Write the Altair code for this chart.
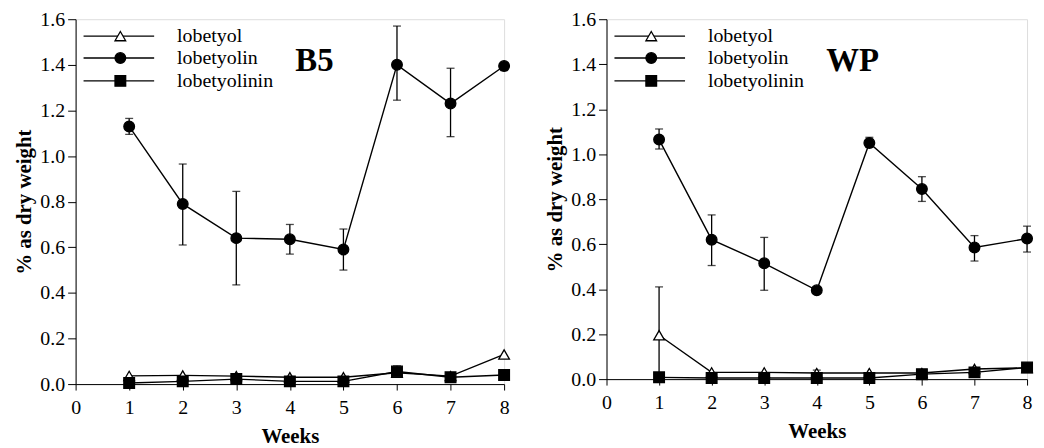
import altair as alt
import pandas as pd

# ---------------- data ----------------
weeks = [1, 2, 3, 4, 5, 6, 7, 8]
compounds = ["lobetyol", "lobetyolin", "lobetyolinin"]
shapes = ["triangle-up", "circle", "square"]
fills = ["white", "black", "black"]

b5_lobetyol = [0.036, 0.038, 0.035, 0.030, 0.030, 0.050, 0.035, 0.130]
b5_lobetyolin = [1.13, 0.79, 0.64, 0.635, 0.59, 1.40, 1.23, 1.395]
b5_lobetyolinin = [0.005, 0.012, 0.022, 0.012, 0.012, 0.055, 0.030, 0.040]
b5_lobetyolin_lo = [1.095, 0.61, 0.435, 0.57, 0.50, 1.245, 1.085, 1.375]
b5_lobetyolin_hi = [1.165, 0.965, 0.845, 0.70, 0.68, 1.57, 1.385, 1.41]
b5_lobetyolinin_lo = [None, None, None, None, None, 0.035, None, None]
b5_lobetyolinin_hi = [None, None, None, None, None, 0.080, None, None]

wp_lobetyol = [0.195, 0.030, 0.030, 0.027, 0.027, 0.027, 0.045, 0.050]
wp_lobetyolin = [1.065, 0.62, 0.515, 0.395, 1.05, 0.845, 0.585, 0.625]
wp_lobetyolinin = [0.008, 0.005, 0.005, 0.005, 0.005, 0.022, 0.030, 0.052]
wp_lobetyolin_lo = [1.023, 0.505, 0.395, None, 1.03, 0.79, 0.525, 0.565]
wp_lobetyolin_hi = [1.112, 0.73, 0.63, None, 1.075, 0.90, 0.638, 0.68]
wp_lobetyol_lo = [0.0, None, None, 0.015, None, None, None, None]
wp_lobetyol_hi = [0.41, None, None, 0.040, None, None, None, None]

x_ticks = [0, 1, 2, 3, 4, 5, 6, 7, 8]
y_ticks = [round(i * 0.1, 1) for i in range(17)]

FONT = "Liberation Serif"


def long_df(series):
    rows = []
    for comp, vals in series.items():
        for w, v in zip(weeks, vals):
            rows.append({"week": w, "compound": comp, "value": v})
    return pd.DataFrame(rows)


def err_df(errs):
    rows = []
    for comp, (lo, hi) in errs.items():
        for w, l, h in zip(weeks, lo, hi):
            if l is not None and h is not None:
                rows.append({"week": w, "compound": comp, "lo": l, "hi": h})
    return pd.DataFrame(rows)


def panel(series, errs, label, w, h, leg_rows, label_y):
    df = long_df(series)
    edf = err_df(errs)
    one = pd.DataFrame({"k": [0]})
    xs = alt.Scale(domain=[0, 8], nice=False)
    ys = alt.Scale(domain=[0, 1.6], nice=False)
    x_axis = alt.Axis(values=x_ticks, format="d", grid=False, tickSize=6,
                      labelFont=FONT, labelFontSize=20, labelColor="black",
                      labelPadding=8, titleFont=FONT, titleFontSize=21,
                      titleFontWeight="bold", titleColor="black", titlePadding=8,
                      domainColor="black", tickColor="black", labelFlush=False)
    y_axis = alt.Axis(values=y_ticks, grid=False,
                      labelExpr="round(datum.value*10)%2==0 ? format(datum.value,'.1f') : ''",
                      tickSize={"expr": "round(datum.value*10)%2==0 ? 8 : 5"},
                      labelFont=FONT, labelFontSize=20, labelColor="black",
                      labelPadding=3, titleFont=FONT, titleFontSize=21,
                      titleFontWeight="bold", titleColor="black", titlePadding=5,
                      domainColor="black", tickColor="black")
    base = alt.Chart(df)
    X = alt.X("week:Q", scale=xs, axis=x_axis, title="Weeks")
    Y = alt.Y("value:Q", scale=ys, axis=y_axis, title="% as dry weight")
    shape_sc = alt.Scale(domain=compounds, range=shapes)
    fill_sc = alt.Scale(domain=compounds, range=fills)

    lines = base.mark_line(color="black", strokeWidth=1.4).encode(
        x=X, y=Y, detail="compound:N")
    ebase = alt.Chart(edf)
    erule = ebase.mark_rule(color="black", strokeWidth=1.3).encode(
        x="week:Q", y="lo:Q", y2="hi:Q")
    cap_lo = ebase.mark_tick(color="black", orient="horizontal", size=8, thickness=1.3).encode(
        x="week:Q", y="lo:Q")
    cap_hi = ebase.mark_tick(color="black", orient="horizontal", size=8, thickness=1.3).encode(
        x="week:Q", y="hi:Q")
    pts = base.mark_point(filled=True, size=115, stroke="black", strokeWidth=1.3, opacity=1).encode(
        x=X, y=Y,
        shape=alt.Shape("compound:N", scale=shape_sc, legend=None),
        fill=alt.Fill("compound:N", scale=fill_sc, legend=None))

    layers = [lines, erule, cap_lo, cap_hi, pts]
    # hand-drawn legend (one row of data per mark so nothing is overdrawn)
    for comp, shp, fl, ly in zip(compounds, shapes, fills, leg_rows):
        layers.append(alt.Chart(one).mark_rule(color="black", strokeWidth=1.3).encode(
            x=alt.value(8), x2=alt.value(79), y=alt.value(ly)))
        layers.append(alt.Chart(one).mark_point(filled=True, size=115, stroke="black",
                                                strokeWidth=1.3, opacity=1, shape=shp, fill=fl).encode(
            x=alt.value(45), y=alt.value(ly)))
        layers.append(alt.Chart(one).mark_text(align="left", baseline="middle", font=FONT,
                                               fontSize=20, color="black", text=comp).encode(
            x=alt.value(102), y=alt.value(ly)))
    layers.append(alt.Chart(one).mark_text(align="left", baseline="alphabetic", font=FONT,
                                           fontSize=33, fontWeight="bold", color="black",
                                           text=label).encode(
        x=alt.value(221), y=alt.value(label_y)))
    return alt.layer(*layers).properties(width=w, height=h)


left = panel({"lobetyol": b5_lobetyol, "lobetyolin": b5_lobetyolin, "lobetyolinin": b5_lobetyolinin},
             {"lobetyolin": (b5_lobetyolin_lo, b5_lobetyolin_hi),
              "lobetyolinin": (b5_lobetyolinin_lo, b5_lobetyolinin_hi)},
             "B5", 431, 367, [17, 39, 62], 52)
right = panel({"lobetyol": wp_lobetyol, "lobetyolin": wp_lobetyolin, "lobetyolinin": wp_lobetyolinin},
              {"lobetyolin": (wp_lobetyolin_lo, wp_lobetyolin_hi),
               "lobetyol": (wp_lobetyol_lo, wp_lobetyol_hi)},
              "WP", 423, 362, [17, 39, 62], 52)

chart = alt.hconcat(left, right, spacing=31).properties(
    padding={"left": 5, "top": -1, "right": 0, "bottom": 0}
).configure_view(stroke=None).configure(background="white")

chart.save("out.html", embed_options={"renderer": "svg", "actions": False})
